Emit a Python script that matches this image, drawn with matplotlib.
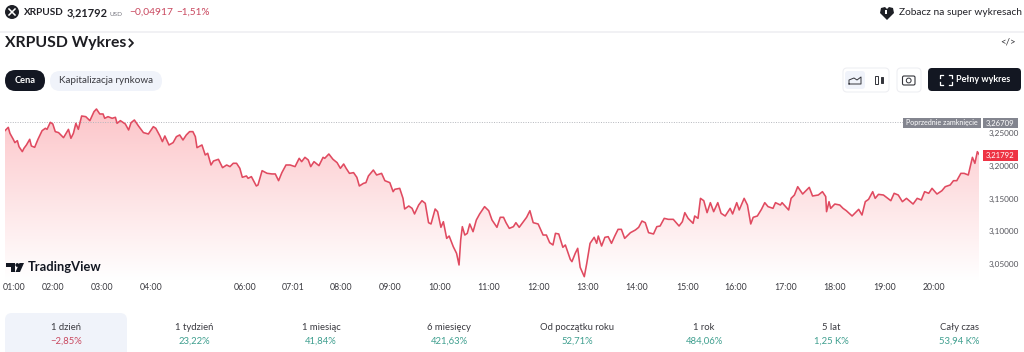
import numpy as np
import matplotlib
matplotlib.use("Agg")
import matplotlib.pyplot as plt
from matplotlib.patches import FancyBboxPatch, Rectangle, Circle, Polygon

plt.rcParams['font.family'] = ['Lato', 'Noto Sans', 'DejaVu Sans']

# minute-bar index (sessions with missing bars make the time axis uneven)
bars = [0,4,6,10,12,15,17,21,23,26,30,32,36,40,45,49,51,55,58,61,65,71,77,80,83,86,89,93,98,103,108,111,115,119,121,125,130,134,136,140,146,150,153,157,162,168,174,180,183,188,191,194,199,204,208,212,216,220,224,228,231,233,239,243,246,250,253,259,264,269,273,277,281,285,288,293,295,299,305,307,312,318,324,328,332,336,341,346,352,357,360,364,368,371,375,381,386,388,393,398,403,
407,411,414,418,423,427,430,435,438,441,447,451,457,461,467,471,473,479,483,485,490,494,497,502,506,510,514,517,522,525,529,532,536,539,544,548,551,553,555,558,561,564,568,572,576,582,587,591,597,601,605,608,612,617,620,624,629,633,637,641,647,653,657,661,665,668,672,677,680,686,688,692,695,698,703,706,710,715,718,720,724,728,732,736,740,744,748,752,759,765,769,773,777,781,787,791,795,800,805,811,818,
822,825,829,835,837,841,844,848,852,856,860,865,869,874,880,883,888,891,897,901,905,908,913,918,922,926,932,935,941,943,951,954,958,962,968,976,980,987,992,996,997,1000,1002,1007,1013,1017,1021,1028,1036,1040,1044,1048,1053,1056,1060,1066,1075,1079,1084,1089,1094,1102,1107,1112,1116,1121,1125,1131,1137,1141,1147,1151,1155,1160,1164,1169,1174,1177,1180,1182]
prices = [3.2539,3.2590,3.2498,3.2407,3.2356,3.2386,3.2294,3.2218,3.2269,3.2320,3.2407,3.2305,3.2284,3.2407,3.2539,3.2575,3.2559,3.2666,3.2641,3.2524,3.2509,3.2432,3.2559,3.2422,3.2498,3.2651,3.2559,3.2763,3.2753,3.2692,3.2830,3.2870,3.2794,3.2794,3.2728,3.2753,3.2728,3.2743,3.2651,3.2692,3.2641,3.2549,3.2661,3.2702,3.2610,3.2509,3.2488,3.2600,3.2575,3.2458,3.2371,3.2458,3.2320,3.2356,3.2447,3.2473,3.2396,3.2473,3.2524,3.2524,3.2447,3.2279,3.2320,3.2167,3.2193,3.2014,3.2075,3.2101,3.1973,3.2014,3.1989,3.2040,3.2040,3.1963,3.1826,3.1846,3.1810,3.1836,3.1693,3.1708,3.1927,3.1887,3.1877,3.1877,3.1774,3.1897,3.2014,3.2014,3.1989,3.2116,3.2065,3.2131,3.2091,3.1989,3.2065,3.2004,3.2131,3.2116,3.2182,3.2101,3.2050,
3.1963,3.2029,3.1963,3.1886,3.1897,3.1825,3.1693,3.1733,3.1744,3.1846,3.1937,3.1861,3.1886,3.1774,3.1744,3.1606,3.1642,3.1657,3.1504,3.1341,3.1387,3.1351,3.1265,3.1402,3.1468,3.1428,3.1132,3.1112,3.1341,3.1300,3.1061,3.1147,3.0892,3.0928,3.0765,3.0663,3.0485,3.0867,3.1071,3.0943,3.0969,3.1112,3.0994,3.1173,3.1265,3.1377,3.1315,3.1173,3.1061,3.1214,3.1214,3.1132,3.1045,3.1071,3.1132,3.1061,3.1147,3.1214,3.1315,3.1132,3.1112,3.0943,3.0943,3.0826,3.0791,3.0969,3.0959,3.0755,3.0791,3.0571,3.0536,3.0663,3.0740,3.0449,3.0306,3.0510,3.0816,3.0908,3.0816,3.0928,3.0775,3.0908,3.0918,3.0816,3.0928,3.1030,3.1030,3.0892,3.0979,3.1020,3.1061,3.1157,3.1132,3.0979,3.0959,3.1071,3.1081,3.1198,3.1183,3.1183,3.1081,
3.1147,3.1285,3.1198,3.1122,3.1234,3.1198,3.1504,3.1468,3.1285,3.1438,3.1300,3.1438,3.1275,3.1234,3.1351,3.1265,3.1438,3.1326,3.1504,3.1402,3.1112,3.1214,3.1234,3.1336,3.1438,3.1377,3.1351,3.1438,3.1402,3.1438,3.1326,3.1504,3.1555,3.1682,3.1570,3.1672,3.1540,3.1555,3.1606,3.1530,3.1300,3.1453,3.1351,3.1417,3.1402,3.1351,3.1315,3.1234,3.1336,3.1249,3.1453,3.1489,3.1606,3.1504,3.1565,3.1555,3.1468,3.1581,3.1555,3.1453,3.1504,3.1417,3.1504,3.1479,3.1606,3.1581,3.1657,3.1570,3.1621,3.1682,3.1708,3.1774,3.1774,3.1886,3.1886,3.1861,3.2131,3.2039,3.2218,3.21792]

time_ticks = [11,58,118,177,291,350,408,467,528,587,648,707,767,828,887,947,1007,1067,1127]
time_labels = ['01:00','02:00','03:00','04:00','06:00','07:01','08:00','09:00','10:00','11:00','12:00','13:00','14:00','15:00','16:00','17:00','18:00','19:00','20:00']
price_ticks = [3.05,3.10,3.15,3.20,3.25]
price_labels = ['3,05000','3,10000','3,15000','3,20000','3,25000']
prev_close = 3.26709
last_price = 3.21792
periods = ['1 dzień','1 tydzień','1 miesiąc','6 miesięcy','Od początku roku','1 rok','5 lat','Cały czas']
changes = ['−2,85%','23,22%','41,84%','421,63%','52,71%','484,06%','1,25 K%','53,94 K%']

W, H = 1024, 352
RED = '#e04a60'; DARK = '#131722'; PALE = '#f0f3fa'; GREEN = '#3f9f8f'; NEG = '#c9485f'; INK = '#2e2e33'
fig = plt.figure(figsize=(W/100, H/100), dpi=100, facecolor='white')

# price chart: x 5..979 px, y 100..280 px
ax = fig.add_axes([5/W, 1-280/H, 974/W, 180/H])
ax.set_xlim(0, 1182)
ax.set_ylim(3.02554, 3.30076)
for s in ax.spines.values():
    s.set_visible(False)
ax.patch.set_alpha(0)
ax.set_xticks(time_ticks, time_labels, fontsize=6.3, color='#3a3a40')
ax.yaxis.tick_right()
ax.set_yticks(price_ticks, price_labels, fontsize=5.9, color='#55555c')
ax.tick_params(length=0)
ax.tick_params(axis='x', pad=2.2)
ax.tick_params(axis='y', pad=6.8)
grad = np.linspace(0, 1, 256).reshape(-1, 1)
top = np.array([0.99, 0.77, 0.785]); bot = np.array([1, 1, 1])
img = (top[None, None, :] * (1 - grad[..., None]) + bot[None, None, :] * grad[..., None])
im = ax.imshow(img, extent=(0, 1182, 3.02554, 3.2900), aspect='auto', zorder=1, origin='upper')
poly = Polygon(list(zip(bars, prices)) + [(bars[-1], 3.02554), (bars[0], 3.02554)], closed=True, transform=ax.transData, fc='none', ec='none')
ax.add_patch(poly)
im.set_clip_path(poly)
ax.set_xlim(0, 1182); ax.set_ylim(3.02554, 3.30076)
ax.plot(bars, prices, color=RED, lw=1.15, zorder=3, solid_joinstyle='round')
ax.plot([0, 1182], [prev_close, prev_close], color='#b5b7bd', lw=0.7, ls=(0, (1, 1.5)), zorder=2)

# page chrome in pixel coordinates
ui = fig.add_axes([0, 0, 1, 1])
ui.set_xlim(0, W); ui.set_ylim(H, 0); ui.axis('off'); ui.patch.set_alpha(0)

def rbox(x0, y0, x1, y1, r, fc, ec='none', lw=0.8):
    ui.add_patch(FancyBboxPatch((x0+r, y0+r), x1-x0-2*r, y1-y0-2*r, boxstyle=f'round,pad={r},rounding_size={r}', fc=fc, ec=ec, lw=lw))

def t(x, y, s, size, color=INK, ha='left', weight='normal'):
    ui.text(x, y, s, fontsize=size, color=color, ha=ha, va='center', fontweight=weight)

# header row
ui.add_patch(Circle((12, 12), 7, fc='#1e2026'))
ui.plot([9, 15], [9, 15], color='white', lw=1.1); ui.plot([9, 15], [15, 9], color='white', lw=1.1)
t(23.5, 12.5, 'XRPUSD', 7.2, '#222228', weight='bold')
t(67, 12.5, '3,21792', 7.9, '#222228', weight='bold')
t(109, 14, 'USD', 4.6, '#777780')
t(129, 12.5, '−0,04917', 7.4, NEG)
t(176, 12.5, '−1,51%', 7.2, NEG)
ui.add_patch(Polygon([(881, 8), (885, 7), (887, 9), (889, 7), (893, 8), (894, 13), (887, 20), (880, 13)], closed=True, fc='#1e2026'))
ui.add_patch(Rectangle((884.5, 10), 2.4, 4, fc='white', ec='none'))
t(899, 12.5, 'Zobacz na super wykresach', 7.3, '#222228')
ui.plot([0, W], [31.5, 31.5], color='#efeff2', lw=1.2)

# title
t(5, 43, 'XRPUSD Wykres', 11.35, '#1d1d22', weight='bold')
ui.plot([129.5, 133, 129.5], [39.5, 43, 46.5], color='#1d1d22', lw=1.3)
t(1008, 42, '</>', 7, '#333338', ha='center')

# tabs
rbox(5, 70, 45, 91, 10.5, DARK)
t(25, 80.5, 'Cena', 6.7, 'white', ha='center', weight='bold')
rbox(50, 71, 162, 91, 10, PALE)
t(106, 80.5, 'Kapitalizacja rynkowa', 7.15, '#3a3a40', ha='center')

# toolbar
rbox(843, 68, 889, 92, 4, 'white', ec='#eeeff3')
rbox(845, 71, 865, 89, 3, PALE)
ui.plot([849, 849, 854, 857, 861, 861, 849], [84, 80, 78, 80, 77, 84, 84], color='#33343a', lw=0.7)
ui.add_patch(Rectangle((875, 76), 3, 8, fc='white', ec='#33343a', lw=0.7))
ui.add_patch(Rectangle((880.5, 77), 2.5, 6, fc='#33343a', ec='#33343a', lw=0.7))
rbox(897, 68, 921, 92, 4, 'white', ec='#eeeff3')
rbox(902.5, 76, 915, 85, 1.5, 'white', ec='#33343a', lw=0.8)
ui.add_patch(Circle((908.7, 80.5), 2.4, fc='white', ec='#33343a', lw=0.7))
rbox(928, 68, 1021, 91, 4, DARK)
for xs, ys in [([940, 940, 943], [78, 75, 75]), ([949, 952, 952], [75, 75, 78]),
               ([940, 940, 943], [82, 85, 85]), ([949, 952, 952], [85, 85, 82])]:
    ui.plot(xs, ys, color='white', lw=0.9)
t(956.5, 79.5, 'Pełny wykres', 6.5, 'white', weight='bold')

# price tags
ui.add_patch(Rectangle((903, 118), 78, 10, fc='#83858f'))
ui.add_patch(Rectangle((983, 118), 35, 10, fc='#83858f'))
t(942, 123, 'Poprzednie zamknięcie', 5.1, 'white', ha='center')
t(1000.5, 123, f'{prev_close:.5f}'.replace('.', ','), 5.6, 'white', ha='center')
ui.add_patch(Rectangle((983, 150), 35, 11, fc='#ee3344'))
t(1000.5, 155.5, f'{last_price:.5f}'.replace('.', ','), 5.6, 'white', ha='center')

# TradingView logo
ui.add_patch(Polygon([(6, 263), (15, 263), (15, 272), (11, 272), (11, 267), (6, 267)], closed=True, fc='#131722'))
ui.add_patch(Circle((17.3, 265), 1.9, fc='#131722'))
ui.add_patch(Polygon([(19.5, 263), (24, 263), (20, 272), (15.5, 272)], closed=True, fc='#131722'))
t(27.5, 267, 'TradingView', 9.3, '#131722', weight='bold')

# period strip
rbox(5, 313, 127, 362, 7, PALE)
centres = [66, 194, 321, 449, 577, 704, 831, 959]
for c, p, v in zip(centres, periods, changes):
    t(c, 328, p, 6.8, '#3a3a40', ha='center')
    t(c, 341.5, v, 6.8, NEG if v.startswith('−') else GREEN, ha='center')

fig.savefig('out.png', dpi=100, facecolor='white')
